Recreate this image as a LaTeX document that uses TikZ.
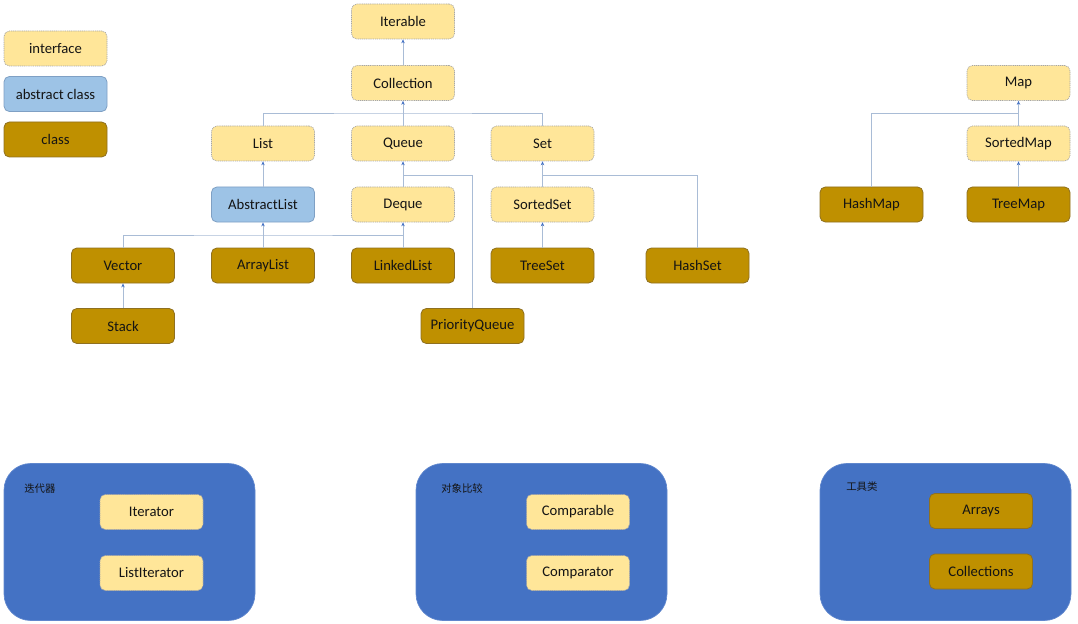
\documentclass[tikz,border=0pt]{standalone}
\usepackage{fontspec}
\setmainfont{Carlito}
\newfontfamily\cjk{Noto Sans CJK SC}
\usetikzlibrary{arrows.meta}
\definecolor{ifill}{HTML}{FFE699}
\definecolor{iborder}{HTML}{A6A6A6}
\definecolor{afill}{HTML}{9DC3E6}
\definecolor{aborder}{HTML}{7FA0C4}
\definecolor{cfill}{HTML}{BF9000}
\definecolor{cborder}{HTML}{8F7020}
\definecolor{linec}{HTML}{A9BCD6}
\definecolor{tipc}{HTML}{4472C4}
\definecolor{grp}{HTML}{4472C4}
\definecolor{txt}{HTML}{141414}
\tikzset{
  base/.style={rectangle, rounded corners=4pt, minimum width=77.25pt, minimum height=26.25pt,
    inner sep=0pt, font=\fontsize{11}{13}\selectfont, text=txt},
  iface/.style={base, fill=ifill, draw=iborder, line width=0.5pt, dash pattern=on 0.8pt off 0.6pt},
  aclass/.style={base, fill=afill, draw=aborder, line width=0.6pt},
  cclass/.style={base, fill=cfill, draw=cborder, line width=0.6pt},
  ln/.style={draw=linec, line width=0.7pt},
  arr/.style={ln, -{Stealth[length=3pt,width=2.6pt,color=tipc]}},
  group/.style={rectangle, rounded corners=20pt, fill=grp, draw=grp!85!white, line width=0.5pt,
    minimum width=188.25pt, minimum height=117.75pt, inner sep=0pt},
  glabel/.style={anchor=west, inner sep=0pt, font=\cjk\fontsize{7.8}{9}\selectfont, text=txt},
}
\begin{document}
\begin{tikzpicture}[x=0.75pt,y=-0.75pt]
\useasboundingbox (0,0) rectangle (1078,624);
% legend
\node[iface]  (lgI) at (55.5,48.5) {interface};
\node[aclass] (lgA) at (55.5,94) {abstract class};
\node[cclass] (lgC) at (55.5,139.5) {class};
% collection hierarchy
\node[iface] (Iterable) at (403,21.5) {Iterable};
\node[iface] (Collection) at (403,83) {Collection};
\node[iface] (List) at (263,143.5) {List};
\node[iface] (Queue) at (403,143.5) {Queue};
\node[iface] (Set) at (542.5,143.5) {Set};
\node[aclass] (AbstractList) at (263,204.5) {AbstractList};
\node[iface] (Deque) at (403,204.5) {Deque};
\node[iface] (SortedSet) at (542.5,204.5) {SortedSet};
\node[cclass] (Vector) at (123,265.5) {Vector};
\node[cclass] (ArrayList) at (263,265.5) {ArrayList};
\node[cclass] (LinkedList) at (403,265.5) {LinkedList};
\node[cclass] (TreeSet) at (542.5,265.5) {TreeSet};
\node[cclass] (HashSet) at (697.5,265.5) {HashSet};
\node[cclass] (Stack) at (123,326) {Stack};
\node[cclass] (PriorityQueue) at (472.5,326) {PriorityQueue};
% map hierarchy
\node[iface] (Map) at (1018.5,83) {Map};
\node[iface] (SortedMap) at (1018.5,143.5) {SortedMap};
\node[cclass] (HashMap) at (871.5,204.5) {HashMap};
\node[cclass] (TreeMap) at (1018.5,204.5) {TreeMap};
% bus coordinates
\coordinate (b1) at (403,113);
\coordinate (qb) at (403,175);
\coordinate (sb) at (542.5,175);
\coordinate (lb) at (263,235);
\coordinate (mb) at (1018.5,113);
% connectors
\draw[ln] (List.north) |- (b1) -| (Set.north);
\draw[ln] (PriorityQueue.north) |- (qb);
\draw[ln] (HashSet.north) |- (sb);
\draw[ln] (Vector.north) |- (lb) -| (LinkedList.north);
\draw[ln] (HashMap.north) |- (mb);
\draw[arr] (Collection.north) -- (Iterable.south);
\draw[arr] (Queue.north) -- (Collection.south);
\draw[arr] (AbstractList.north) -- (List.south);
\draw[arr] (Deque.north) -- (Queue.south);
\draw[arr] (SortedSet.north) -- (Set.south);
\draw[arr] (ArrayList.north) -- (AbstractList.south);
\draw[arr] (LinkedList.north) -- (Deque.south);
\draw[arr] (Stack.north) -- (Vector.south);
\draw[arr] (TreeSet.north) -- (SortedSet.south);
\draw[arr] (SortedMap.north) -- (Map.south);
\draw[arr] (TreeMap.north) -- (SortedMap.south);
% groups
\node[group] (g1) at (129.5,542) {};
\node[group] (g2) at (541.5,542) {};
\node[group] (g3) at (945.5,542) {};
\node[glabel] (g1l) at (24,489) {迭代器};
\node[glabel] (g2l) at (441,489) {对象比较};
\node[glabel] (g3l) at (846,487) {工具类};
\node[iface] (Iterator) at (151.5,512) {Iterator};
\node[iface] (ListIterator) at (151.5,573) {ListIterator};
\node[iface] (Comparable) at (578,512) {Comparable};
\node[iface] (Comparator) at (578,573) {Comparator};
\node[cclass] (Arrays) at (981,511) {Arrays};
\node[cclass] (Collections) at (981,571.5) {Collections};
\end{tikzpicture}
\end{document}
